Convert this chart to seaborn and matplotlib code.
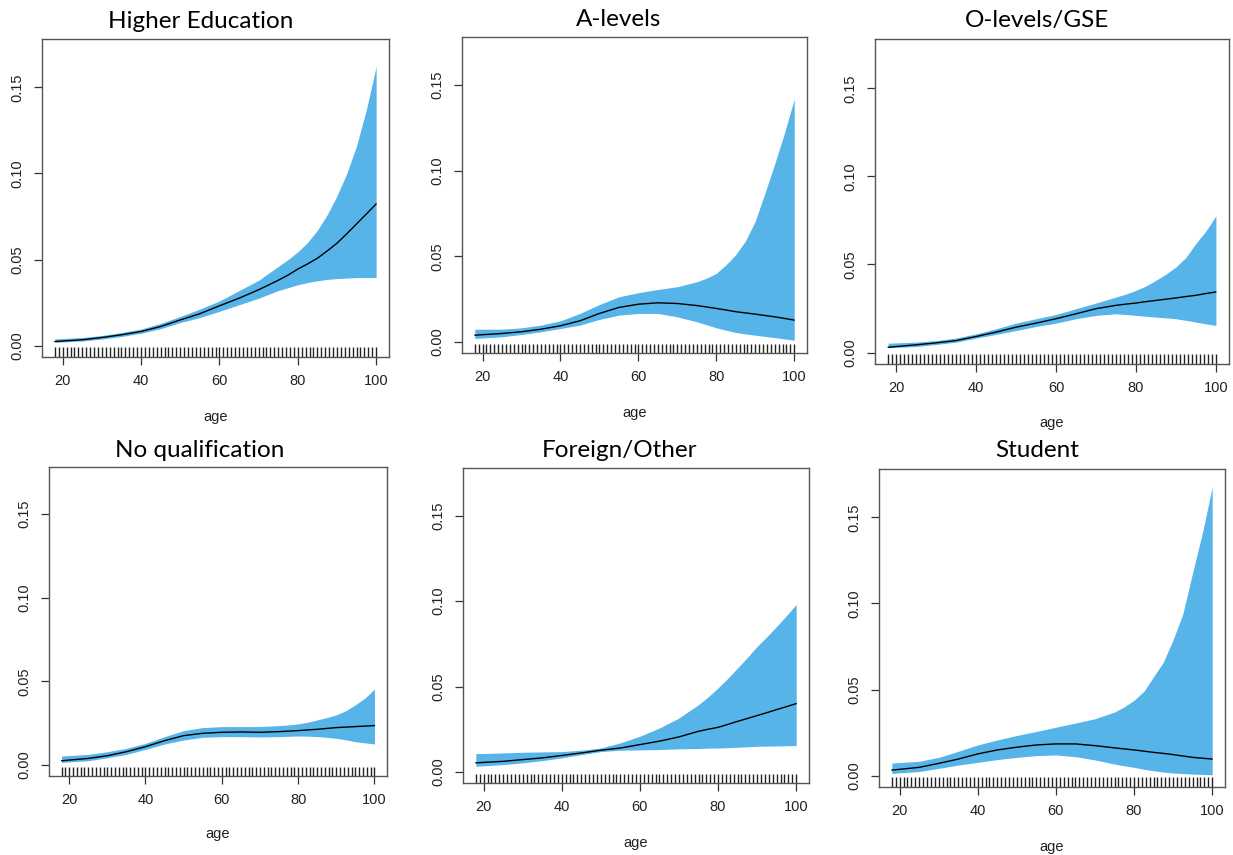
import numpy as np
import seaborn as sns
import matplotlib
matplotlib.use("Agg")
import matplotlib.pyplot as plt

age = [18, 25, 30, 35, 40, 45, 50, 55, 60, 65, 70, 75,
       77.5, 80, 82.5, 85, 87.5, 90, 92.5, 95, 97.5, 100]
rug_ages = list(range(18, 101))

titles = ["Higher Education", "A-levels", "O-levels/GSE",
          "No qualification", "Foreign/Other", "Student"]

he_fit = [0.0025, 0.0035, 0.0048, 0.0064, 0.0083, 0.0112, 0.0150, 0.0186, 0.0232, 0.0276, 0.0325,
          0.0380, 0.0410, 0.0445, 0.0475, 0.0508, 0.0550, 0.0595, 0.0650, 0.0707, 0.0765, 0.0823]
he_lo = [0.0020, 0.0028, 0.0039, 0.0054, 0.0073, 0.0099, 0.0135, 0.0164, 0.0200, 0.0238, 0.0276,
         0.0320, 0.0337, 0.0354, 0.0367, 0.0377, 0.0385, 0.0390, 0.0393, 0.0396, 0.0396, 0.0396]
he_hi = [0.0040, 0.0048, 0.0060, 0.0077, 0.0097, 0.0130, 0.0170, 0.0213, 0.0260, 0.0320, 0.0380,
         0.0460, 0.0500, 0.0545, 0.0600, 0.0670, 0.0760, 0.0870, 0.1000, 0.1160, 0.1370, 0.1620]

al_fit = [0.0039, 0.0049, 0.0059, 0.0074, 0.0094, 0.0123, 0.0166, 0.0201, 0.0220, 0.0228, 0.0224,
          0.0212, 0.0204, 0.0195, 0.0186, 0.0176, 0.0169, 0.0162, 0.0154, 0.0146, 0.0137, 0.0127]
al_lo = [0.0020, 0.0030, 0.0043, 0.0059, 0.0078, 0.0098, 0.0131, 0.0156, 0.0166, 0.0166, 0.0146,
         0.0117, 0.0100, 0.0082, 0.0068, 0.0055, 0.0046, 0.0039, 0.0032, 0.0025, 0.0017, 0.0010]
al_hi = [0.0074, 0.0074, 0.0082, 0.0098, 0.0123, 0.0166, 0.0218, 0.0263, 0.0287, 0.0306, 0.0322,
         0.0351, 0.0372, 0.0400, 0.0450, 0.0510, 0.0590, 0.0705, 0.0870, 0.1040, 0.1220, 0.1418]

ol_fit = [0.0030, 0.0044, 0.0055, 0.0068, 0.0091, 0.0116, 0.0144, 0.0167, 0.0192, 0.0220, 0.0249,
          0.0268, 0.0275, 0.0281, 0.0289, 0.0296, 0.0303, 0.0310, 0.0318, 0.0325, 0.0335, 0.0344]
ol_lo = [0.0027, 0.0034, 0.0046, 0.0059, 0.0082, 0.0103, 0.0125, 0.0148, 0.0167, 0.0192, 0.0211,
         0.0220, 0.0216, 0.0211, 0.0206, 0.0201, 0.0197, 0.0192, 0.0183, 0.0173, 0.0163, 0.0154]
ol_hi = [0.0053, 0.0059, 0.0068, 0.0082, 0.0106, 0.0135, 0.0167, 0.0192, 0.0216, 0.0249, 0.0281,
         0.0315, 0.0332, 0.0353, 0.0378, 0.0410, 0.0445, 0.0486, 0.0540, 0.0619, 0.0690, 0.0775]

nq_fit = [0.0026, 0.0040, 0.0056, 0.0080, 0.0110, 0.0146, 0.0176, 0.0190, 0.0196, 0.0198, 0.0196,
          0.0200, 0.0203, 0.0206, 0.0210, 0.0214, 0.0219, 0.0224, 0.0227, 0.0230, 0.0233, 0.0236]
nq_lo = [0.0016, 0.0026, 0.0044, 0.0064, 0.0094, 0.0126, 0.0150, 0.0166, 0.0170, 0.0170, 0.0168,
         0.0170, 0.0172, 0.0174, 0.0173, 0.0170, 0.0166, 0.0160, 0.0151, 0.0140, 0.0133, 0.0126]
nq_hi = [0.0054, 0.0064, 0.0080, 0.0100, 0.0130, 0.0170, 0.0206, 0.0224, 0.0230, 0.0230, 0.0230,
         0.0236, 0.0240, 0.0246, 0.0256, 0.0270, 0.0284, 0.0300, 0.0325, 0.0360, 0.0400, 0.0454]

fo_fit = [0.0053, 0.0062, 0.0072, 0.0082, 0.0096, 0.0111, 0.0127, 0.0140, 0.0160, 0.0180, 0.0205,
          0.0238, 0.0250, 0.0261, 0.0278, 0.0296, 0.0313, 0.0330, 0.0347, 0.0365, 0.0382, 0.0400]
fo_lo = [0.0033, 0.0043, 0.0053, 0.0066, 0.0082, 0.0101, 0.0119, 0.0127, 0.0129, 0.0131, 0.0135,
         0.0137, 0.0139, 0.0140, 0.0142, 0.0144, 0.0147, 0.0150, 0.0151, 0.0152, 0.0153, 0.0154]
fo_hi = [0.0107, 0.0111, 0.0115, 0.0117, 0.0119, 0.0127, 0.0140, 0.0170, 0.0209, 0.0257, 0.0316,
         0.0394, 0.0440, 0.0492, 0.0548, 0.0609, 0.0670, 0.0735, 0.0792, 0.0852, 0.0915, 0.0980]

st_fit = [0.0033, 0.0049, 0.0072, 0.0097, 0.0127, 0.0150, 0.0166, 0.0179, 0.0185, 0.0185, 0.0175,
          0.0162, 0.0156, 0.0150, 0.0143, 0.0136, 0.0130, 0.0123, 0.0115, 0.0107, 0.0102, 0.0097]
st_lo = [0.0014, 0.0025, 0.0043, 0.0062, 0.0078, 0.0094, 0.0107, 0.0117, 0.0121, 0.0111, 0.0092,
         0.0068, 0.0058, 0.0049, 0.0038, 0.0029, 0.0022, 0.0016, 0.0013, 0.0010, 0.0008, 0.0006]
st_hi = [0.0074, 0.0084, 0.0107, 0.0142, 0.0179, 0.0208, 0.0234, 0.0257, 0.0282, 0.0306, 0.0331,
         0.0370, 0.0400, 0.0438, 0.0490, 0.0575, 0.0660, 0.0789, 0.0940, 0.1179, 0.1410, 0.1675]

fits = [he_fit, al_fit, ol_fit, nq_fit, fo_fit, st_fit]
lows = [he_lo, al_lo, ol_lo, nq_lo, fo_lo, st_lo]
highs = [he_hi, al_hi, ol_hi, nq_hi, fo_hi, st_hi]

sns.set_theme(style="white")
plt.rcParams["font.family"] = ["Liberation Sans", "DejaVu Sans"]

W, H = 1233, 855
fig = plt.figure(figsize=(W / 100, H / 100), dpi=100)

# panel boxes in pixels: left, top, right, bottom (the panels are pasted, not aligned)
boxes = [(42, 39, 389, 357), (462, 37, 807, 353), (875, 39, 1229, 364),
         (49, 467, 387, 776), (463, 468, 809, 783), (879, 469, 1225, 787)]
title_pos = [(201, 21), (619, 20), (1037, 20), (200, 450), (619, 450), (1037, 450)]
label_y = [417, 413, 423, 834, 843, 847]

band = "#56B4E9"

for i in range(6):
    l, t, r, b = boxes[i]
    ax = fig.add_axes([l / W, (H - b) / H, (r - l) / W, (b - t) / H])
    ax.fill_between(age, lows[i], highs[i], color=band, lw=0)
    sns.lineplot(x=age, y=fits[i], ax=ax, color="black", lw=1)
    sns.rugplot(x=rug_ages, ax=ax, height=0.03, color="#222222", lw=0.9,
                expand_margins=False)
    ax.set_xlim(14.72, 103.28)
    ax.set_ylim(-0.0065, 0.178)
    ax.set_xticks([20, 40, 60, 80, 100])
    ax.set_yticks([0, 0.05, 0.10, 0.15])
    ax.set_yticklabels(["0.00", "0.05", "0.10", "0.15"], rotation=90, va="center")
    ax.tick_params(axis="both", direction="out", length=5.5, width=0.9,
                   color="#333333", labelcolor="#222222", labelsize=10.5, pad=7,
                   left=True, bottom=True)
    for side in ["left", "bottom", "top", "right"]:
        ax.spines[side].set_color("#555555")
        ax.spines[side].set_linewidth(1.0)
    ax.set_ylabel("")
    ax.set_xlabel("age", fontsize=10.5, color="#222222")
    ax.xaxis.set_label_coords(0.5, -(label_y[i] - 7 - b) / (b - t))
    tx, ty = title_pos[i]
    fig.text(tx / W, 1 - ty / H, titles[i], ha="center", va="center",
             fontsize=17.5, family=["Lato", "DejaVu Sans"], color="black")

fig.savefig("out.png", dpi=100)
